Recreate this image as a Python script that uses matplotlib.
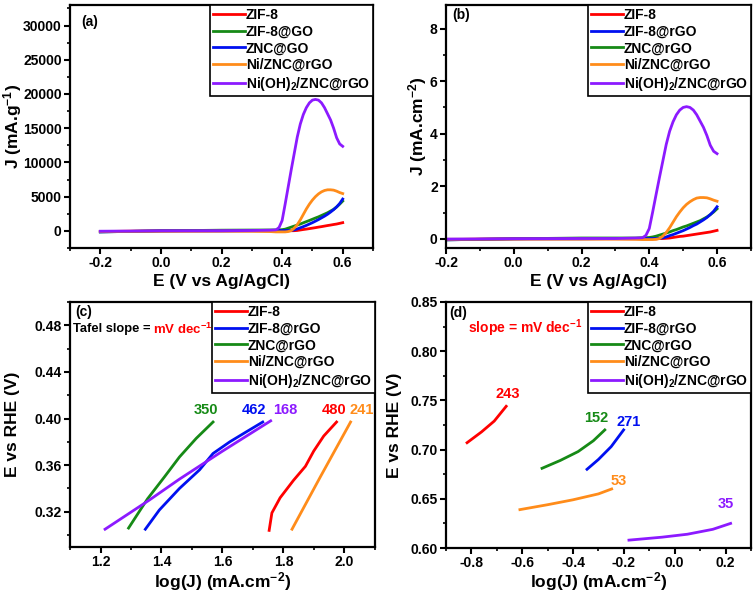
import matplotlib
matplotlib.use("Agg")
import matplotlib.pyplot as plt
from matplotlib.ticker import MultipleLocator, AutoMinorLocator

plt.rcParams['font.family'] = ['Liberation Sans', 'DejaVu Sans']
plt.rcParams['font.weight'] = 'bold'
plt.rcParams['axes.labelweight'] = 'bold'
plt.rcParams['mathtext.fontset'] = 'custom'
plt.rcParams['mathtext.rm'] = 'Liberation Sans:bold'
plt.rcParams['mathtext.bf'] = 'Liberation Sans:bold'
plt.rcParams['mathtext.default'] = 'bf'
plt.rcParams['axes.unicode_minus'] = False

RED, GREEN, BLUE, ORANGE, PURPLE = '#ff0000', '#168a16', '#0010f0', '#ff8c1a', '#8c1aff'

# LSV data, panels (a) and (b)
E_lsv = [-0.2, 0.0, 0.2, 0.3, 0.36, 0.38, 0.39, 0.40, 0.41, 0.42, 0.43, 0.44, 0.45, 0.46,
         0.47, 0.48, 0.49, 0.50, 0.51, 0.52, 0.53, 0.54, 0.55, 0.56, 0.57, 0.58, 0.59, 0.60]

purple_a = [-50, 0, 20, 50, 100, 150, 500, 1500, 3900, 6400, 8900, 11300, 13700, 15600,
            17000, 18000, 18700, 19100, 19200, 19100, 18700, 18000, 17100, 16200, 15000, 13600, 12700, 12350]
orange_a = [-80, -50, -30, -50, -100, -150, -150, -150, -150, -100, 50, 400, 900, 1600,
            2400, 3200, 3900, 4500, 5000, 5400, 5700, 5900, 6000, 6000, 5950, 5800, 5600, 5450]
green_a = [-150, 0, 100, 120, 130, 140, 150, 180, 250, 400, 550, 700, 850, 1000,
           1180, 1350, 1520, 1700, 1880, 2050, 2250, 2450, 2650, 2900, 3150, 3500, 3900, 4350]
blue_a = [-150, 0, 0, 20, 30, 40, 40, 50, 50, 50, 80, 150, 280, 450,
          620, 800, 1000, 1200, 1420, 1650, 1900, 2150, 2430, 2750, 3100, 3500, 4000, 4650]
red_a = [-100, 0, 0, 10, 10, 10, 10, 10, 10, 10, 20, 30, 60, 130,
         200, 260, 330, 400, 470, 550, 620, 700, 780, 850, 930, 1000, 1100, 1200]

purple_b = [-0.01, 0.0, 0.01, 0.01, 0.03, 0.04, 0.13, 0.39, 1.02, 1.68, 2.33, 2.96, 3.59, 4.09,
            4.45, 4.72, 4.90, 5.00, 5.03, 5.00, 4.90, 4.72, 4.48, 4.24, 3.93, 3.56, 3.33, 3.24]
orange_b = [-0.02, -0.01, -0.01, -0.01, -0.02, -0.03, -0.03, -0.03, -0.03, -0.02, 0.01, 0.10, 0.24, 0.42,
            0.63, 0.84, 1.02, 1.18, 1.31, 1.41, 1.49, 1.55, 1.57, 1.57, 1.56, 1.52, 1.47, 1.43]
green_b = [-0.04, 0.0, 0.03, 0.03, 0.03, 0.04, 0.04, 0.05, 0.07, 0.10, 0.14, 0.18, 0.22, 0.26,
           0.31, 0.35, 0.40, 0.45, 0.49, 0.54, 0.59, 0.64, 0.69, 0.76, 0.83, 0.92, 1.02, 1.14]
blue_b = [-0.04, 0.0, 0.0, 0.01, 0.01, 0.01, 0.01, 0.01, 0.01, 0.01, 0.02, 0.04, 0.07, 0.12,
          0.16, 0.21, 0.26, 0.31, 0.37, 0.43, 0.50, 0.56, 0.64, 0.72, 0.81, 0.92, 1.05, 1.22]
red_b = [-0.03, 0.0, 0.0, 0.0, 0.0, 0.0, 0.0, 0.0, 0.0, 0.0, 0.01, 0.01, 0.02, 0.03,
         0.05, 0.07, 0.09, 0.10, 0.12, 0.14, 0.16, 0.18, 0.20, 0.22, 0.24, 0.26, 0.29, 0.32]

# Tafel data, panel (c)
red_c_x = [1.753, 1.762, 1.789, 1.833, 1.872, 1.899, 1.932, 1.974]
red_c_y = [0.304, 0.319, 0.332, 0.347, 0.359, 0.372, 0.385, 0.397]
blue_c_x = [1.347, 1.393, 1.459, 1.525, 1.569, 1.624, 1.679, 1.732]
blue_c_y = [0.305, 0.3215, 0.340, 0.356, 0.370, 0.380, 0.3887, 0.397]
green_c_x = [1.292, 1.354, 1.41, 1.459, 1.514, 1.569]
green_c_y = [0.306, 0.331, 0.350, 0.367, 0.383, 0.397]
orange_c_x = [1.828, 1.921, 2.020]
orange_c_y = [0.305, 0.350, 0.397]
purple_c_x = [1.215, 1.36, 1.459, 1.60, 1.758]
purple_c_y = [0.305, 0.330, 0.348, 0.372, 0.398]
slopes_c = ['480', '462', '350', '241', '168']

# Tafel data, panel (d)
red_d_x = [-0.817, -0.76, -0.71, -0.663]
red_d_y = [0.707, 0.718, 0.729, 0.744]
blue_d_x = [-0.345, -0.30, -0.25, -0.201]
blue_d_y = [0.680, 0.690, 0.703, 0.720]
green_d_x = [-0.522, -0.45, -0.38, -0.32, -0.275]
green_d_y = [0.681, 0.689, 0.698, 0.709, 0.720]
orange_d_x = [-0.609, -0.5, -0.4, -0.3, -0.248]
orange_d_y = [0.639, 0.644, 0.649, 0.655, 0.660]
purple_d_x = [-0.18, -0.05, 0.05, 0.15, 0.22]
purple_d_y = [0.608, 0.611, 0.614, 0.619, 0.625]
slopes_d = ['243', '271', '152', '53', '35']

labels_a = ['ZIF-8', 'ZIF-8@GO', 'ZNC@GO', 'Ni/ZNC@rGO', 'Ni(OH)$_2$/ZNC@rGO']
labels_rgo = ['ZIF-8', 'ZIF-8@rGO', 'ZNC@rGO', 'Ni/ZNC@rGO', 'Ni(OH)$_2$/ZNC@rGO']

LW = 2.0
TICK_FS = 10
LABEL_FS = 12.5
LEG_FS = 10

fig = plt.figure(figsize=(7.56, 5.98), dpi=100)
ax_a = fig.add_axes([0.0926, 0.5853, 0.4008, 0.4064])
ax_b = fig.add_axes([0.5899, 0.5853, 0.4034, 0.4064])
ax_c = fig.add_axes([0.0926, 0.0858, 0.4034, 0.4092])
ax_d = fig.add_axes([0.5899, 0.0836, 0.4034, 0.4114])


def style(ax, xmaj, ymaj):
    for s in ax.spines.values():
        s.set_linewidth(1.6)
    ax.xaxis.set_major_locator(MultipleLocator(xmaj))
    ax.yaxis.set_major_locator(MultipleLocator(ymaj))
    ax.xaxis.set_minor_locator(AutoMinorLocator(2))
    ax.yaxis.set_minor_locator(AutoMinorLocator(2))
    ax.tick_params(which='major', direction='out', length=4, width=1.5, labelsize=TICK_FS, pad=2)
    ax.tick_params(which='minor', direction='out', length=2.5, width=1.2)
    for lab in ax.get_xticklabels() + ax.get_yticklabels():
        lab.set_fontweight('bold')


def labels(ax, xl, yl, xpos, ypos):
    ax.set_xlabel(xl, fontsize=LABEL_FS)
    ax.set_ylabel(yl, fontsize=LABEL_FS)
    ax.xaxis.label.set_va('center')
    ax.yaxis.label.set_va('center')
    ax.xaxis.set_label_coords(0.5, xpos)
    ax.yaxis.set_label_coords(ypos, 0.5)


def legend(ax, names, colors):
    handles = [plt.Line2D([], [], color=c, lw=LW) for c in colors]
    leg = ax.legend(handles, names, loc='upper right', frameon=True,
                    fancybox=False, edgecolor='black', framealpha=1, borderaxespad=0,
                    handlelength=2.3, handletextpad=0.1, labelspacing=0.2, borderpad=0.2,
                    prop={'weight': 'bold', 'size': LEG_FS})
    leg.get_frame().set_linewidth(1.2)


# (a)
ax_a.plot(E_lsv, red_a, color=RED, lw=LW)
ax_a.plot(E_lsv, green_a, color=GREEN, lw=LW)
ax_a.plot(E_lsv, blue_a, color=BLUE, lw=LW)
ax_a.plot(E_lsv, orange_a, color=ORANGE, lw=LW)
ax_a.plot(E_lsv, purple_a, color=PURPLE, lw=LW)
ax_a.set_xlim(-0.3, 0.7)
ax_a.set_ylim(-2500, 33000)
style(ax_a, 0.2, 5000)
labels(ax_a, 'E (V vs Ag/AgCl)', 'J (mA.g$^{-1}$)', -0.139, -0.19)
ax_a.text(0.066, 0.931, '(a)', transform=ax_a.transAxes, fontsize=10, va='center', ha='center')
legend(ax_a, labels_a, [RED, GREEN, BLUE, ORANGE, PURPLE])

# (b)
ax_b.plot(E_lsv, red_b, color=RED, lw=LW)
ax_b.plot(E_lsv, green_b, color=GREEN, lw=LW)
ax_b.plot(E_lsv, blue_b, color=BLUE, lw=LW)
ax_b.plot(E_lsv, orange_b, color=ORANGE, lw=LW)
ax_b.plot(E_lsv, purple_b, color=PURPLE, lw=LW)
ax_b.set_xlim(-0.2, 0.7)
ax_b.set_ylim(-0.35, 8.9)
style(ax_b, 0.2, 2)
labels(ax_b, 'E (V vs Ag/AgCl)', 'J (mA.cm$^{-2}$)', -0.139, -0.092)
ax_b.text(0.05, 0.959, '(b)', transform=ax_b.transAxes, fontsize=10, va='center', ha='center')
legend(ax_b, labels_rgo, [RED, BLUE, GREEN, ORANGE, PURPLE])

# (c)
c_series = [(red_c_x, red_c_y, RED), (blue_c_x, blue_c_y, BLUE), (green_c_x, green_c_y, GREEN),
            (orange_c_x, orange_c_y, ORANGE), (purple_c_x, purple_c_y, PURPLE)]
for x, y, col in c_series:
    ax_c.plot(x, y, color=col, lw=LW)
c_label_x = [1.965, 1.703, 1.547, 2.055, 1.806]
for (x, y, col), s, lx in zip(c_series, slopes_c, c_label_x):
    ax_c.text(lx, 0.4077, s, color=col, fontsize=10.5, ha='center', va='center')
ax_c.set_xlim(1.1, 2.1)
ax_c.set_ylim(0.29, 0.50)
style(ax_c, 0.2, 0.04)
labels(ax_c, 'log(J) (mA.cm$^{-2}$)', 'E vs RHE (V)', -0.143, -0.187)
ax_c.text(0.044, 0.96, '(c)', transform=ax_c.transAxes, fontsize=10, va='center', ha='center')
ax_c.text(0.01, 0.888, 'Tafel slope = ', transform=ax_c.transAxes, fontsize=9.3, va='center', ha='left')
ax_c.text(0.272, 0.888, 'mV dec$^{-1}$', transform=ax_c.transAxes, fontsize=9.5, va='center',
          ha='left', color=RED)
legend(ax_c, labels_rgo, [RED, BLUE, GREEN, ORANGE, PURPLE])

# (d)
d_series = [(red_d_x, red_d_y, RED), (blue_d_x, blue_d_y, BLUE), (green_d_x, green_d_y, GREEN),
            (orange_d_x, orange_d_y, ORANGE), (purple_d_x, purple_d_y, PURPLE)]
for x, y, col in d_series:
    ax_d.plot(x, y, color=col, lw=LW)
d_label_pos = [(-0.658, 0.756), (-0.18, 0.728), (-0.31, 0.732), (-0.22, 0.668), (0.203, 0.645)]
for (x, y, col), s, (lx, ly) in zip(d_series, slopes_d, d_label_pos):
    ax_d.text(lx, ly, s, color=col, fontsize=10.5, ha='center', va='center')
ax_d.set_xlim(-0.9, 0.3)
ax_d.set_ylim(0.60, 0.85)
style(ax_d, 0.2, 0.05)
labels(ax_d, 'log(J) (mA.cm$^{-2}$)', 'E vs RHE (V)', -0.138, -0.168)
ax_d.text(0.039, 0.955, '(d)', transform=ax_d.transAxes, fontsize=10, va='center', ha='center')
ax_d.text(0.072, 0.893, 'slope = mV dec$^{-1}$', transform=ax_d.transAxes, fontsize=10,
          va='center', ha='left', color=RED)
legend(ax_d, labels_rgo, [RED, BLUE, GREEN, ORANGE, PURPLE])

fig.savefig('out.png', dpi=100)
